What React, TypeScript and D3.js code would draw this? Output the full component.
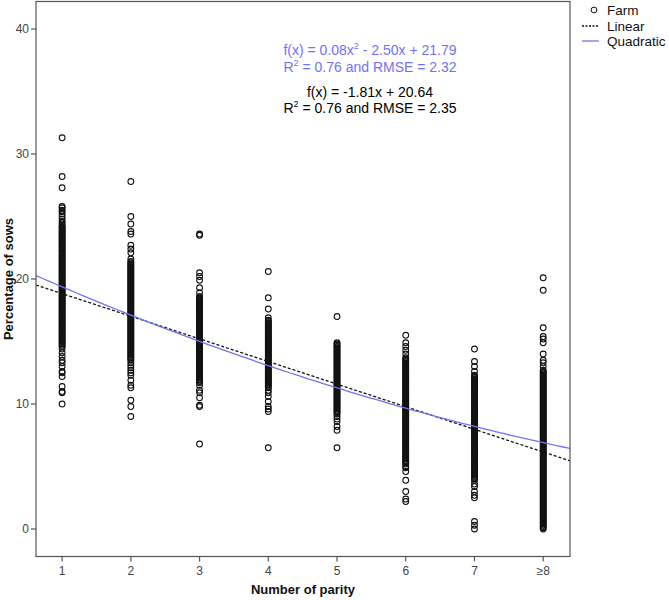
import * as d3 from "d3"

// Parity categories (x position 1..8, last is "≥8")
const parityLabels = ["1", "2", "3", "4", "5", "6", "7", "≥8"]
const yTicks = [0, 10, 20, 30, 40]

// Farm-level percentage of sows per parity
const parity1 = [
  31.3, 28.2, 27.3, 25.8, 25.7, 25.5, 25.4, 25.2, 25.0, 24.8, 24.6, 24.5, 24.3,
  24.2, 24.1, 24.0,
  23.9, 23.8, 23.7, 23.6, 23.5, 23.4, 23.3, 23.2, 23.1, 23.0,
  22.9, 22.8, 22.7, 22.6, 22.5, 22.4, 22.3, 22.2, 22.1, 22.0,
  21.9, 21.8, 21.7, 21.6, 21.5, 21.4, 21.3, 21.2, 21.1, 21.0,
  20.9, 20.8, 20.7, 20.6, 20.5, 20.4, 20.3, 20.2, 20.1, 20.0,
  19.9, 19.8, 19.7, 19.6, 19.5, 19.4, 19.3, 19.2, 19.1, 19.0,
  18.9, 18.8, 18.7, 18.6, 18.5, 18.4, 18.3, 18.2, 18.1, 18.0,
  17.9, 17.8, 17.7, 17.6, 17.5, 17.4, 17.3, 17.2, 17.1, 17.0,
  16.9, 16.8, 16.7, 16.6, 16.5, 16.4, 16.3, 16.2, 16.1, 16.0,
  15.9, 15.8, 15.7, 15.6, 15.5, 15.4, 15.3, 15.2, 15.1, 15.0,
  14.9, 14.8, 14.7, 14.6,
  14.4, 14.1, 13.8, 13.5, 13.3, 13.0, 12.6, 12.5, 12.2, 11.4, 11.0, 10.9, 10.0,
]
const parity2 = [
  27.8, 25.0, 24.4, 23.8, 23.6, 22.7, 22.4, 22.1, 21.6, 21.4,
  21.3, 21.2, 21.1, 21.0,
  20.9, 20.8, 20.7, 20.6, 20.5, 20.4, 20.3, 20.2, 20.1, 20.0,
  19.9, 19.8, 19.7, 19.6, 19.5, 19.4, 19.3, 19.2, 19.1, 19.0,
  18.9, 18.8, 18.7, 18.6, 18.5, 18.4, 18.3, 18.2, 18.1, 18.0,
  17.9, 17.8, 17.7, 17.6, 17.5, 17.4, 17.3, 17.2, 17.1, 17.0,
  16.9, 16.8, 16.7, 16.6, 16.5, 16.4, 16.3, 16.2, 16.1, 16.0,
  15.9, 15.8, 15.7, 15.6, 15.5, 15.4, 15.3, 15.2, 15.1, 15.0,
  14.9, 14.8, 14.7, 14.6, 14.5, 14.4, 14.3, 14.2, 14.1, 14.0,
  13.9, 13.8, 13.7, 13.6, 13.5,
  13.3, 13.1, 12.9, 12.7, 12.5, 12.3, 11.9, 11.5, 11.3, 10.3, 9.8, 9.0,
]
const parity3 = [
  23.6, 23.5, 20.5, 20.2, 19.9, 19.3, 18.9,
  18.6, 18.5, 18.4, 18.3, 18.2, 18.1, 18.0,
  17.9, 17.8, 17.7, 17.6, 17.5, 17.4, 17.3, 17.2, 17.1, 17.0,
  16.9, 16.8, 16.7, 16.6, 16.5, 16.4, 16.3, 16.2, 16.1, 16.0,
  15.9, 15.8, 15.7, 15.6, 15.5, 15.4, 15.3, 15.2, 15.1, 15.0,
  14.9, 14.8, 14.7, 14.6, 14.5, 14.4, 14.3, 14.2, 14.1, 14.0,
  13.9, 13.8, 13.7, 13.6, 13.5, 13.4, 13.3, 13.2, 13.1, 13.0,
  12.9, 12.8, 12.7, 12.6, 12.5, 12.4, 12.3, 12.2, 12.1, 12.0,
  11.9, 11.8, 11.7,
  11.5, 11.1, 10.9, 10.5, 9.9, 9.8, 6.8,
]
const parity4 = [
  20.6, 18.5, 17.6, 16.9,
  16.7, 16.6, 16.5, 16.4, 16.3, 16.2, 16.1, 16.0,
  15.9, 15.8, 15.7, 15.6, 15.5, 15.4, 15.3, 15.2, 15.1, 15.0,
  14.9, 14.8, 14.7, 14.6, 14.5, 14.4, 14.3, 14.2, 14.1, 14.0,
  13.9, 13.8, 13.7, 13.6, 13.5, 13.4, 13.3, 13.2, 13.1, 13.0,
  12.9, 12.8, 12.7, 12.6, 12.5, 12.4, 12.3, 12.2, 12.1, 12.0,
  11.9, 11.8, 11.7, 11.6, 11.5, 11.4, 11.3,
  11.1, 10.9, 10.6, 10.2, 9.8, 9.6, 9.4, 6.5,
]
const parity5 = [
  17.0,
  14.9, 14.8, 14.7, 14.6, 14.5, 14.4, 14.3, 14.2, 14.1, 14.0,
  13.9, 13.8, 13.7, 13.6, 13.5, 13.4, 13.3, 13.2, 13.1, 13.0,
  12.9, 12.8, 12.7, 12.6, 12.5, 12.4, 12.3, 12.2, 12.1, 12.0,
  11.9, 11.8, 11.7, 11.6, 11.5, 11.4, 11.3, 11.2, 11.1, 11.0,
  10.9, 10.8, 10.7, 10.6, 10.5, 10.4, 10.3, 10.2, 10.1, 10.0,
  9.9, 9.8, 9.7, 9.6, 9.5, 9.4, 9.3, 9.2,
  9.0, 8.8, 8.6, 8.2, 7.9, 6.5,
]
const parity6 = [
  15.5, 14.9, 14.6, 14.3, 14.0,
  13.7, 13.6, 13.5, 13.4, 13.3, 13.2, 13.1, 13.0,
  12.9, 12.8, 12.7, 12.6, 12.5, 12.4, 12.3, 12.2, 12.1, 12.0,
  11.9, 11.8, 11.7, 11.6, 11.5, 11.4, 11.3, 11.2, 11.1, 11.0,
  10.9, 10.8, 10.7, 10.6, 10.5, 10.4, 10.3, 10.2, 10.1, 10.0,
  9.9, 9.8, 9.7, 9.6, 9.5, 9.4, 9.3, 9.2, 9.1, 9.0,
  8.9, 8.8, 8.7, 8.6, 8.5, 8.4, 8.3, 8.2, 8.1, 8.0,
  7.9, 7.8, 7.7, 7.6, 7.5, 7.4, 7.3, 7.2, 7.1, 7.0,
  6.9, 6.8, 6.7, 6.6, 6.5, 6.4, 6.3, 6.2, 6.1, 6.0,
  5.9, 5.8, 5.7, 5.6, 5.5, 5.4, 5.3, 5.2,
  5.0, 4.9, 4.6, 3.9, 3.0, 2.4, 2.2,
]
const parity7 = [
  14.4, 13.4, 13.0, 12.6,
  12.3, 12.2, 12.1, 12.0,
  11.9, 11.8, 11.7, 11.6, 11.5, 11.4, 11.3, 11.2, 11.1, 11.0,
  10.9, 10.8, 10.7, 10.6, 10.5, 10.4, 10.3, 10.2, 10.1, 10.0,
  9.9, 9.8, 9.7, 9.6, 9.5, 9.4, 9.3, 9.2, 9.1, 9.0,
  8.9, 8.8, 8.7, 8.6, 8.5, 8.4, 8.3, 8.2, 8.1, 8.0,
  7.9, 7.8, 7.7, 7.6, 7.5, 7.4, 7.3, 7.2, 7.1, 7.0,
  6.9, 6.8, 6.7, 6.6, 6.5, 6.4, 6.3, 6.2, 6.1, 6.0,
  5.9, 5.8, 5.7, 5.6, 5.5, 5.4, 5.3, 5.2, 5.1, 5.0,
  4.9, 4.8, 4.7, 4.6, 4.5, 4.4, 4.3, 4.2, 4.1, 4.0,
  3.9, 3.6, 3.4, 3.0, 2.7, 2.5, 0.6, 0.3, 0.0,
]
const parity8 = [
  20.1, 19.1, 16.1, 15.4, 15.2, 14.9, 14.0, 13.5, 13.3, 13.0,
  12.7, 12.6, 12.5, 12.4, 12.3, 12.2, 12.1, 12.0,
  11.9, 11.8, 11.7, 11.6, 11.5, 11.4, 11.3, 11.2, 11.1, 11.0,
  10.9, 10.8, 10.7, 10.6, 10.5, 10.4, 10.3, 10.2, 10.1, 10.0,
  9.9, 9.8, 9.7, 9.6, 9.5, 9.4, 9.3, 9.2, 9.1, 9.0,
  8.9, 8.8, 8.7, 8.6, 8.5, 8.4, 8.3, 8.2, 8.1, 8.0,
  7.9, 7.8, 7.7, 7.6, 7.5, 7.4, 7.3, 7.2, 7.1, 7.0,
  6.9, 6.8, 6.7, 6.6, 6.5, 6.4, 6.3, 6.2, 6.1, 6.0,
  5.9, 5.8, 5.7, 5.6, 5.5, 5.4, 5.3, 5.2, 5.1, 5.0,
  4.9, 4.8, 4.7, 4.6, 4.5, 4.4, 4.3, 4.2, 4.1, 4.0,
  3.9, 3.8, 3.7, 3.6, 3.5, 3.4, 3.3, 3.2, 3.1, 3.0,
  2.9, 2.8, 2.7, 2.6, 2.5, 2.4, 2.3, 2.2, 2.1, 2.0,
  1.9, 1.8, 1.7, 1.6, 1.5, 1.4, 1.3, 1.2, 1.1, 1.0,
  0.9, 0.8, 0.7, 0.6, 0.5, 0.4, 0.3, 0.2, 0.1, 0.0,
]
const farmValues = [parity1, parity2, parity3, parity4, parity5, parity6, parity7, parity8]

// Fit coefficients as printed on the chart
const linearFit = { a: -1.81, b: 20.64 }
const quadFit = { a: 0.08, b: -2.5, c: 21.79 }

const INK = "#111"
const FRAME = "#555"
const BLUE = "#7373f2"
const FONT = "Arial, 'Liberation Sans', sans-serif"

export default function App() {
  const W = 669
  const H = 600
  const M = { top: 1.5, left: 36, right: 570, bottom: 556.5 }

  const x = d3.scaleLinear().domain([0.62, 8.39]).range([M.left, M.right])
  const y = d3.scaleLinear().domain([-2.2, 42.2]).range([M.bottom, M.top])

  const points = farmValues.flatMap((vals, i) => vals.map((v) => ({ p: i + 1, v })))

  // sample the fitted curves across the plot width
  const [x0, x1] = x.domain()
  const xs = d3.range(x0, x1 + 0.001, (x1 - x0) / 80)
  const linPath = d3
    .line<number>()
    .x((d) => x(d))
    .y((d) => y(linearFit.a * d + linearFit.b))(xs)
  const quadPath = d3
    .line<number>()
    .x((d) => x(d))
    .y((d) => y(quadFit.a * d * d + quadFit.b * d + quadFit.c))(xs)

  const annX = 370

  return (
    <svg
      width={W}
      height={H}
      style={{ position: "absolute", left: 0, top: 0, background: "#fff" }}
      fontFamily={FONT}
    >
      <defs>
        <clipPath id="plot">
          <rect x={M.left} y={M.top} width={M.right - M.left} height={M.bottom - M.top} />
        </clipPath>
      </defs>

      {/* points */}
      <g fill="none" stroke={INK} strokeWidth={1.05}>
        {points.map((d, i) => (
          <circle key={i} cx={x(d.p)} cy={y(d.v)} r={2.9} />
        ))}
      </g>

      {/* fit lines */}
      <g clipPath="url(#plot)" fill="none">
        <path d={linPath ?? ""} stroke="#111" strokeWidth={1.3} strokeDasharray="3 2" />
        <path d={quadPath ?? ""} stroke={BLUE} strokeWidth={1.3} />
      </g>

      {/* frame */}
      <rect
        x={M.left}
        y={M.top}
        width={M.right - M.left}
        height={M.bottom - M.top}
        fill="none"
        stroke={FRAME}
        strokeWidth={1.2}
      />

      {/* y axis ticks */}
      {yTicks.map((t) => (
        <g key={t}>
          <line x1={M.left - 5} x2={M.left} y1={y(t)} y2={y(t)} stroke={FRAME} strokeWidth={1.2} />
          <text x={M.left - 7} y={y(t)} dy="0.35em" textAnchor="end" fontSize={12} fill="#444">
            {t}
          </text>
        </g>
      ))}

      {/* x axis ticks */}
      {parityLabels.map((lab, i) => (
        <g key={lab}>
          <line x1={x(i + 1)} x2={x(i + 1)} y1={M.bottom} y2={M.bottom + 5} stroke={FRAME} strokeWidth={1.2} />
          <text x={x(i + 1)} y={M.bottom + 18} textAnchor="middle" fontSize={12} fill="#444">
            {lab}
          </text>
        </g>
      ))}

      {/* axis titles */}
      <text x={(M.left + M.right) / 2} y={594} textAnchor="middle" fontSize={13} fontWeight="bold" fill="#111">
        Number of parity
      </text>
      <text
        transform={`translate(13, ${(M.top + M.bottom) / 2}) rotate(-90)`}
        textAnchor="middle"
        fontSize={13}
        fontWeight="bold"
        fill="#111"
      >
        Percentage of sows
      </text>

      {/* fit annotations */}
      <g fontSize={14} textAnchor="middle">
        <text x={annX} y={55} fill={BLUE}>
          f(x) = 0.08x<tspan fontSize={9} dy={-6}>2</tspan>
          <tspan dy={6}> - 2.50x + 21.79</tspan>
        </text>
        <text x={annX} y={72} fill={BLUE}>
          R<tspan fontSize={9} dy={-6}>2</tspan>
          <tspan dy={6}> = 0.76 and RMSE = 2.32</tspan>
        </text>
        <text x={annX} y={96.5} fill="#000">
          f(x) = -1.81x + 20.64
        </text>
        <text x={annX} y={113} fill="#000">
          R<tspan fontSize={9} dy={-6}>2</tspan>
          <tspan dy={6}> = 0.76 and RMSE = 2.35</tspan>
        </text>
      </g>

      {/* legend */}
      <g fontSize={13.5} fill="#111">
        <circle cx={594} cy={10} r={2.9} fill="none" stroke={INK} strokeWidth={1} />
        <text x={607} y={10} dy="0.35em">Farm</text>
        <line x1={582} x2={599} y1={26} y2={26} stroke="#111" strokeWidth={1.3} strokeDasharray="2 1.5" />
        <text x={607} y={26} dy="0.35em">Linear</text>
        <line x1={582} x2={599} y1={41} y2={41} stroke={BLUE} strokeWidth={1.3} />
        <text x={607} y={41} dy="0.35em">Quadratic</text>
      </g>
    </svg>
  )
}
